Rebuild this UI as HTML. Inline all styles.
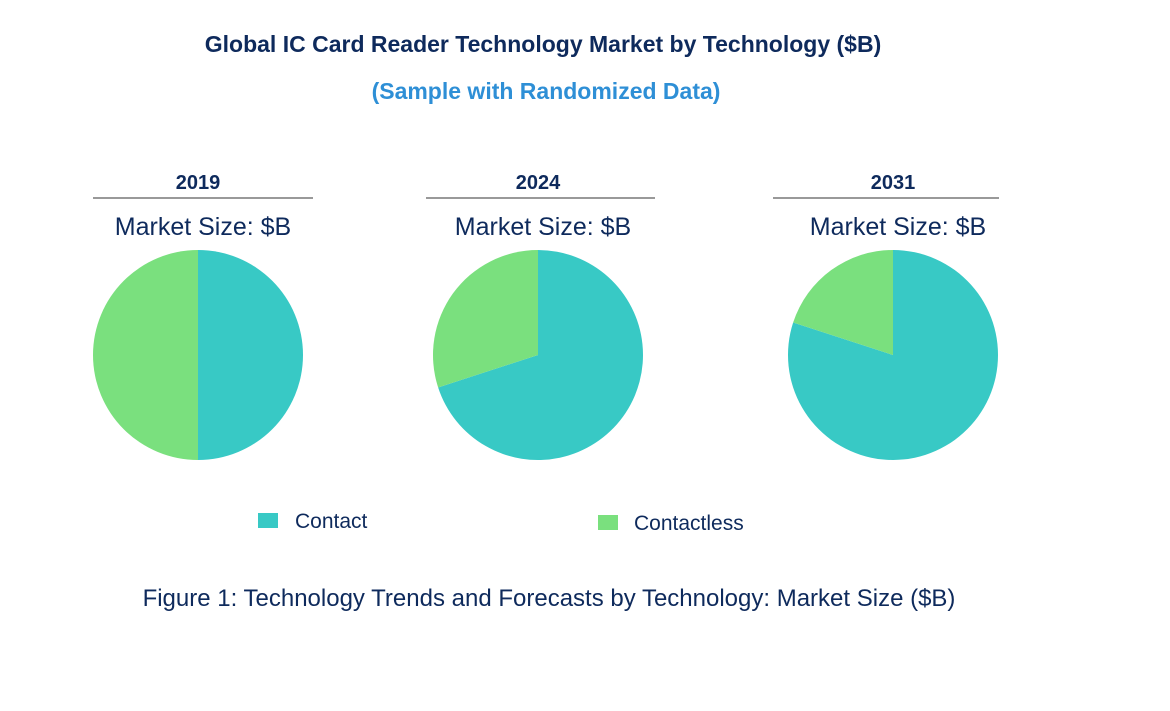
<!DOCTYPE html>
<html><head><meta charset="utf-8"><style>
body{margin:0;width:1170px;height:711px;background:#fff;font-family:"Liberation Sans",Arial,sans-serif;overflow:hidden}
svg{position:absolute;left:0;top:0}
</style></head><body>
<svg id="chart" width="1170" height="711">
<text x="543" y="52" text-anchor="middle" font-size="23" font-weight="bold" fill="#0E2A5C">Global IC Card Reader Technology Market by Technology ($B)</text>
<text x="546" y="99" text-anchor="middle" font-size="23" font-weight="bold" fill="#2E8FD6">(Sample with Randomized Data)</text>
<g id="pies"></g>
<rect x="258" y="513" width="20" height="15" fill="#38C9C5"/>
<text x="295" y="528" font-size="21" fill="#0E2A5C">Contact</text>
<rect x="598" y="515" width="20" height="15" fill="#7AE07E"/>
<text x="634" y="530" font-size="21" fill="#0E2A5C">Contactless</text>
<text x="549" y="606" text-anchor="middle" font-size="24" fill="#0E2A5C">Figure 1: Technology Trends and Forecasts by Technology: Market Size ($B)</text>
</svg>
<script>
const years=["2019","2024","2031"];
const contactShare=[50,70,80];
const contactlessShare=[50,30,20];
const colors=["#38C9C5","#7AE07E"];
const cx=[198,538,893], cy=355, r=105;
const lineX=[[93,313],[426,655],[773,999]];
const g=document.getElementById('pies');
const NS="http://www.w3.org/2000/svg";
function pt(c,a){return [c+r*Math.sin(a), cy-r*Math.cos(a)];}
years.forEach((y,i)=>{
  const t=document.createElementNS(NS,'text');
  t.setAttribute('x',cx[i]);t.setAttribute('y',189);t.setAttribute('text-anchor','middle');
  t.setAttribute('font-size','20');t.setAttribute('font-weight','bold');t.setAttribute('fill','#0E2A5C');
  t.textContent=y;
  
  
  g.appendChild(t);
  const l=document.createElementNS(NS,'line');
  l.setAttribute('x1',lineX[i][0]);l.setAttribute('x2',lineX[i][1]);l.setAttribute('y1',198);l.setAttribute('y2',198);
  l.setAttribute('stroke','#333');l.setAttribute('stroke-width','1');
  
  
  g.appendChild(l);
  const m=document.createElementNS(NS,'text');
  m.setAttribute('x',cx[i]+5);m.setAttribute('y',235);m.setAttribute('text-anchor','middle');
  m.setAttribute('font-size','25');m.setAttribute('fill','#0E2A5C');
  m.textContent='Market Size: $B';
  
  
  g.appendChild(m);
  const vals=[contactShare[i],contactlessShare[i]];
  const tot=vals[0]+vals[1];
  let a0=0;
  vals.forEach((v,k)=>{
    const a1=a0+v/tot*2*Math.PI;
    const p0=pt(cx[i],a0),p1=pt(cx[i],a1);
    const large=(a1-a0)>Math.PI?1:0;
    const p=document.createElementNS(NS,'path');
    p.setAttribute('d',`M${cx[i]},${cy} L${p0[0]},${p0[1]} A${r},${r} 0 ${large} 1 ${p1[0]},${p1[1]} Z`);
    p.setAttribute('fill',colors[k]);
    
    
    g.appendChild(p);
    a0=a1;
  });
});
</script>
</body></html>
